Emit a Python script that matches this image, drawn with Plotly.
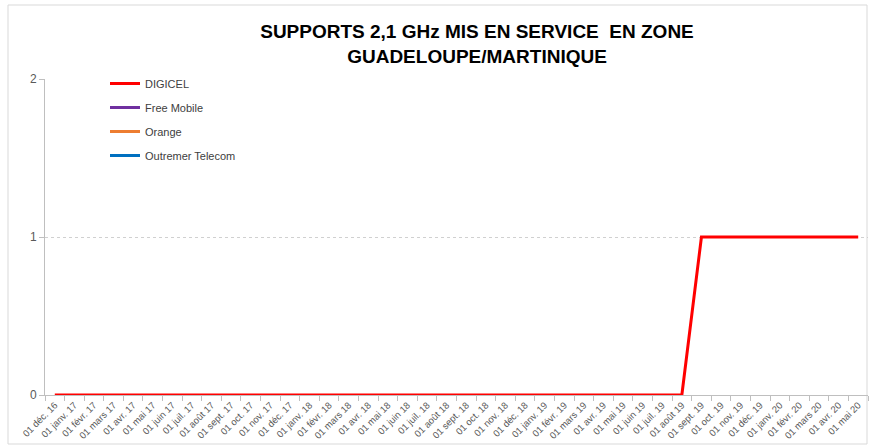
import plotly.graph_objects as go

months = ["janv.", "févr.", "mars", "avr.", "mai", "juin", "juil.", "août", "sept.", "oct.", "nov.", "déc."]
categories = ["01 déc. 16"]
for yr in ["17", "18", "19"]:
    for m in months:
        categories.append(f"01 {m} {yr}")
for m in months[:5]:
    categories.append(f"01 {m} 20")

digicel = [0]*33 + [1]*9
# no data shown for the other operators
free_mobile = [None]*42
orange = [None]*42
outremer = [None]*42

series = [
    ("DIGICEL", digicel, "#FF0000"),
    ("Free Mobile", free_mobile, "#7030A0"),
    ("Orange", orange, "#ED7D31"),
    ("Outremer Telecom", outremer, "#0070C0"),
]

fig = go.Figure()
for name, vals, col in series:
    fig.add_trace(go.Scatter(
        x=categories, y=vals, mode="lines", name=name,
        line=dict(color=col, width=3), legendgroup=name,
    ))

FONT = "Liberation Sans, sans-serif"
L, R, T, B = 45, 3, 79, 50
PW, PH = 871 - L - R, 445 - T - B

fig.update_layout(
    width=871, height=445,
    margin=dict(l=L, r=R, t=T, b=B, autoexpand=False),
    paper_bgcolor="white", plot_bgcolor="white",
    font=dict(family=FONT, color="#595959"),
    title=dict(
        text="<b>SUPPORTS 2,1 GHz MIS EN SERVICE  EN ZONE<br>GUADELOUPE/MARTINIQUE</b>",
        x=477/871, xanchor="center", y=1-38/445, yanchor="top",
        font=dict(size=19, color="#000000", family=FONT),
    ),
    showlegend=True,
    legend=dict(
        x=(105-L)/PW, y=1 + 10/PH, xanchor="left", yanchor="top",
        bgcolor="rgba(0,0,0,0)", font=dict(size=11, color="#404040", family=FONT),
        traceorder="grouped", tracegroupgap=5,
    ),
    xaxis=dict(
        type="category", tickson="boundaries", ticks="outside", ticklen=5,
        tickcolor="#BFBFBF", showline=True, linecolor="#BFBFBF", showgrid=False,
        tickangle=-45, tickfont=dict(size=9.5, color="#595959"),
        range=[-0.5, 41.5], fixedrange=True,
    ),
    yaxis=dict(
        range=[0, 2], tickvals=[0, 1, 2], ticks="outside", ticklen=5,
        tickcolor="#BFBFBF", showline=True, linecolor="#BFBFBF",
        showgrid=True, gridcolor="#D0D0D0", griddash="dot", zeroline=False,
        tickfont=dict(size=12, color="#595959"),
    ),
    shapes=[dict(
        type="rect", xref="paper", yref="paper",
        x0=(8-L)/PW, x1=(867-L)/PW, y0=(395-444)/PH, y1=(395-5)/PH,
        line=dict(color="#D9D9D9", width=1), fillcolor="rgba(0,0,0,0)", layer="below",
    )],
)

fig.write_html(
    "out.html",
    config={"displayModeBar": False},
    post_script="document.body.style.margin='0';document.body.style.overflow='hidden';",
)
